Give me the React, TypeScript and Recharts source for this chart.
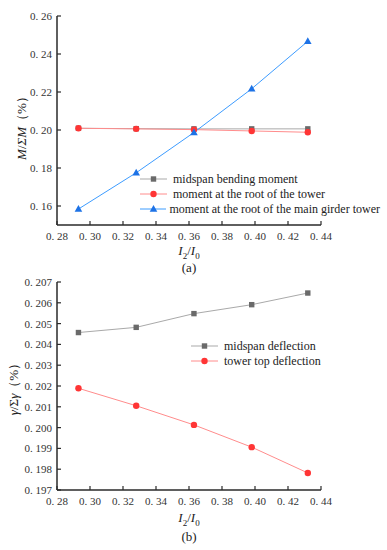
import React from 'react';
import { LineChart, Line, XAxis, YAxis, Legend } from 'recharts';

// I2/I0 ratios (shared by both panels)
const ratios = [0.293, 0.328, 0.363, 0.398, 0.432];

// panel (a): moment ratio M/ΣM (%)
const midspanMoment = [0.2009, 0.2007, 0.2006, 0.2006, 0.2006];
const towerRootMoment = [0.2009, 0.2006, 0.2002, 0.1995, 0.1988];
const girderTowerMoment = [0.1584, 0.1775, 0.1987, 0.2217, 0.2467];

// panel (b): deflection ratio γ/Σγ (%)
const midspanDeflection = [0.20457, 0.20482, 0.20548, 0.20591, 0.20647];
const towerTopDeflection = [0.20189, 0.20105, 0.20013, 0.19906, 0.19782];

const xTicks = [0.28, 0.3, 0.32, 0.34, 0.36, 0.38, 0.4, 0.42, 0.44];
const yTicksA = [0.16, 0.18, 0.2, 0.22, 0.24, 0.26];
const yTicksB = [0.197, 0.198, 0.199, 0.2, 0.201, 0.202, 0.203, 0.204, 0.205, 0.206, 0.207];

const dataA = ratios.map((r, i) => ({
  r,
  mid: midspanMoment[i],
  root: towerRootMoment[i],
  girder: girderTowerMoment[i],
}));

const dataB = ratios.map((r, i) => ({
  r,
  mid: midspanDeflection[i],
  top: towerTopDeflection[i],
}));

const FONT = '"Liberation Serif", "Times New Roman", serif';
const AXIS = '#2a2a2a';

const GREY = { line: '#a9a9a9', mark: '#6a6a6a' };
const RED = { line: '#ff8c8c', mark: '#ff3535' };
const BLUE = { line: '#3d9cff', mark: '#1d72e6' };

const fmt = (v: number, digits: number) => v.toFixed(digits).replace('.', '. ');

type Shape = 'square' | 'circle' | 'triangle';

const Marker = ({ cx, cy, shape, color }: { cx: number; cy: number; shape: Shape; color: string }) => {
  if (cx == null || cy == null) return null;
  if (shape === 'square') return <rect x={cx - 2.7} y={cy - 2.7} width={5.4} height={5.4} fill={color} />;
  if (shape === 'circle') return <circle cx={cx} cy={cy} r={3.2} fill={color} />;
  return <polygon points={`${cx},${cy - 4} ${cx - 3.8},${cy + 2.8} ${cx + 3.8},${cy + 2.8}`} fill={color} />;
};

const dotOf = (shape: Shape, color: string) => (props: any) => (
  <Marker key={props.index} cx={props.cx} cy={props.cy} shape={shape} color={color} />
);

const XTick = ({ x, y, payload }: any) => (
  <g>
    <line x1={x} x2={x} y1={y} y2={y - 4} stroke={AXIS} strokeWidth={1.2} />
    <text x={x} y={y + 11} textAnchor="middle" dominantBaseline="central" fontFamily={FONT} fontSize={11} fill="#333">
      {fmt(payload.value, 2)}
    </text>
  </g>
);

const YTick = (digits: number) => ({ x, y, payload }: any) => (
  <g>
    <line x1={x} x2={x + 4} y1={y} y2={y} stroke={AXIS} strokeWidth={1.2} />
    <text x={x - 5} y={y} textAnchor="end" dominantBaseline="central" fontFamily={FONT} fontSize={11} fill="#333">
      {fmt(payload.value, digits)}
    </text>
  </g>
);

const legendOf = (items: { name: string; shape: Shape; c: { line: string; mark: string } }[]) => () => (
  <div style={{ fontFamily: FONT, fontSize: 12, color: '#222' }}>
    {items.map((it) => (
      <div key={it.name} style={{ display: 'flex', alignItems: 'center', height: 14.8, whiteSpace: 'nowrap' }}>
        <svg width={30} height={10} style={{ marginRight: 3 }}>
          <line x1={0} x2={27} y1={5} y2={5} stroke={it.c.line} strokeWidth={1} />
          <Marker cx={13.5} cy={5} shape={it.shape} color={it.c.mark} />
        </svg>
        <span>{it.name}</span>
      </div>
    ))}
  </div>
);

const Text = ({ left, top, children, rotate }: { left: number; top: number; children: React.ReactNode; rotate?: boolean }) => (
  <div
    style={{
      position: 'absolute',
      left,
      top,
      transform: `translate(-50%, -50%)${rotate ? ' rotate(-90deg)' : ''}`,
      fontFamily: FONT,
      fontSize: 13,
      color: '#222',
      whiteSpace: 'nowrap',
    }}
  >
    {children}
  </div>
);

const ratioTitle = (
  <span>
    <i>I</i>
    <sub style={{ fontSize: 9 }}>2</sub>/<i>I</i>
    <sub style={{ fontSize: 9 }}>0</sub>
  </span>
);

export default function App() {
  return (
    <div style={{ position: 'absolute', left: 0, top: 0, width: 387, height: 550, background: '#fff' }}>
      {/* panel (a) */}
      <div style={{ position: 'absolute', left: 0, top: 0 }}>
        <LineChart width={387} height={275} data={dataA} margin={{ top: 16, right: 66, bottom: 0, left: 0 }}>
          <XAxis
            dataKey="r"
            type="number"
            domain={[0.28, 0.44]}
            ticks={xTicks}
            height={50}
            tickSize={0}
            tickMargin={0}
            tickLine={false}
            axisLine={{ stroke: AXIS, strokeWidth: 1.5 }}
            tick={<XTick />}
            interval={0}
          />
          <YAxis
            type="number"
            domain={[0.15, 0.26]}
            ticks={yTicksA}
            allowDataOverflow
            width={57}
            tickSize={0}
            tickMargin={0}
            tickLine={false}
            axisLine={{ stroke: AXIS, strokeWidth: 1.5 }}
            tick={YTick(2)}
            interval={0}
          />
          <Legend
            layout="vertical"
            verticalAlign="middle"
            align="center"
            wrapperStyle={{ top: 172, left: 140, width: 240 }}
            content={legendOf([
              { name: 'midspan bending moment', shape: 'square', c: GREY },
              { name: 'moment at the root of the tower', shape: 'circle', c: RED },
              { name: 'moment at the root of the main girder tower', shape: 'triangle', c: BLUE },
            ])}
          />
          <Line dataKey="mid" name="midspan bending moment" stroke={GREY.line} strokeWidth={1} dot={dotOf('square', GREY.mark)} isAnimationActive={false} />
          <Line dataKey="root" name="moment at the root of the tower" stroke={RED.line} strokeWidth={1} dot={dotOf('circle', RED.mark)} isAnimationActive={false} />
          <Line dataKey="girder" name="moment at the root of the main girder tower" stroke={BLUE.line} strokeWidth={1} dot={dotOf('triangle', BLUE.mark)} isAnimationActive={false} />
        </LineChart>
      </div>
      <Text left={22} top={125} rotate>
        <i>M</i>/<i>ΣM</i>（%）
      </Text>
      <Text left={189} top={252}>{ratioTitle}</Text>
      <Text left={189} top={268}>(a)</Text>

      {/* panel (b) */}
      <div style={{ position: 'absolute', left: 0, top: 270 }}>
        <LineChart width={387} height={280} data={dataB} margin={{ top: 12, right: 66, bottom: 0, left: 0 }}>
          <XAxis
            dataKey="r"
            type="number"
            domain={[0.28, 0.44]}
            ticks={xTicks}
            height={60}
            tickSize={0}
            tickMargin={0}
            tickLine={false}
            axisLine={{ stroke: AXIS, strokeWidth: 1.5 }}
            tick={<XTick />}
            interval={0}
          />
          <YAxis
            type="number"
            domain={[0.197, 0.207]}
            ticks={yTicksB}
            allowDataOverflow
            width={57}
            tickSize={0}
            tickMargin={0}
            tickLine={false}
            axisLine={{ stroke: AXIS, strokeWidth: 1.5 }}
            tick={YTick(3)}
            interval={0}
          />
          <Legend
            layout="vertical"
            verticalAlign="middle"
            align="center"
            wrapperStyle={{ top: 69, left: 191, width: 180 }}
            content={legendOf([
              { name: 'midspan deflection', shape: 'square', c: GREY },
              { name: 'tower top deflection', shape: 'circle', c: RED },
            ])}
          />
          <Line dataKey="mid" name="midspan deflection" stroke={GREY.line} strokeWidth={1} dot={dotOf('square', GREY.mark)} isAnimationActive={false} />
          <Line dataKey="top" name="tower top deflection" stroke={RED.line} strokeWidth={1} dot={dotOf('circle', RED.mark)} isAnimationActive={false} />
        </LineChart>
      </div>
      <Text left={14} top={386} rotate>
        <i>γ</i>/Σ<i>γ</i>（%）
      </Text>
      <Text left={189} top={519}>{ratioTitle}</Text>
      <Text left={189} top={537}>(b)</Text>
    </div>
  );
}
